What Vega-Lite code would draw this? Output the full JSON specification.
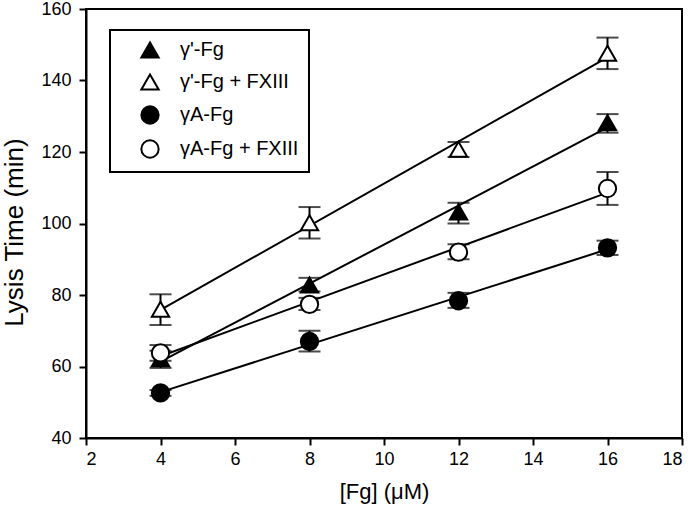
{
  "$schema": "https://vega.github.io/schema/vega-lite/v6.json",
  "width": 596,
  "height": 429,
  "autosize": "none",
  "padding": {"left": 86, "top": 9, "right": 11, "bottom": 70},
  "background": "white",
  "data": {
    "values": [
      {"series": "γ'-Fg", "x": 4, "y": 62.2, "lo": 59.6, "hi": 64.4},
      {"series": "γ'-Fg", "x": 8, "y": 82.8, "lo": 81.0, "hi": 84.8},
      {"series": "γ'-Fg", "x": 12, "y": 103.2, "lo": 100.0, "hi": 105.8},
      {"series": "γ'-Fg", "x": 16, "y": 128.2, "lo": 125.4, "hi": 130.6},
      {"series": "γ'-Fg + FXIII", "x": 4, "y": 76.0, "lo": 71.6, "hi": 80.2},
      {"series": "γ'-Fg + FXIII", "x": 8, "y": 100.2, "lo": 95.8, "hi": 104.6},
      {"series": "γ'-Fg + FXIII", "x": 12, "y": 120.8, "lo": 118.6, "hi": 122.8},
      {"series": "γ'-Fg + FXIII", "x": 16, "y": 147.6, "lo": 143.2, "hi": 152.0},
      {"series": "γA-Fg", "x": 4, "y": 52.6, "lo": 51.8, "hi": 53.4},
      {"series": "γA-Fg", "x": 8, "y": 67.0, "lo": 64.2, "hi": 70.0},
      {"series": "γA-Fg", "x": 12, "y": 78.4, "lo": 76.4, "hi": 80.6},
      {"series": "γA-Fg", "x": 16, "y": 93.2, "lo": 91.2, "hi": 95.2},
      {"series": "γA-Fg + FXIII", "x": 4, "y": 63.8, "lo": 61.6, "hi": 66.0},
      {"series": "γA-Fg + FXIII", "x": 8, "y": 77.4, "lo": 75.8, "hi": 79.2},
      {"series": "γA-Fg + FXIII", "x": 12, "y": 92.0, "lo": 90.0, "hi": 94.2},
      {"series": "γA-Fg + FXIII", "x": 16, "y": 109.8, "lo": 105.2, "hi": 114.4}
    ]
  },
  "layer": [
    {
      "transform": [
        {"regression": "y", "on": "x", "groupby": ["series"], "extent": [4, 16]}
      ],
      "mark": {"type": "line", "color": "black", "strokeWidth": 2},
      "encoding": {
        "x": {"field": "x", "type": "quantitative"},
        "y": {"field": "y", "type": "quantitative"},
        "detail": {"field": "series"}
      }
    },
    {
      "mark": {"type": "rule", "color": "black", "strokeWidth": 2},
      "encoding": {
        "x": {"field": "x", "type": "quantitative"},
        "y": {"field": "lo", "type": "quantitative"},
        "y2": {"field": "hi"}
      }
    },
    {
      "mark": {"type": "tick", "color": "black", "orient": "horizontal", "size": 22, "thickness": 2},
      "encoding": {
        "x": {"field": "x", "type": "quantitative"},
        "y": {"field": "lo", "type": "quantitative"}
      }
    },
    {
      "mark": {"type": "tick", "color": "black", "orient": "horizontal", "size": 22, "thickness": 2},
      "encoding": {
        "x": {"field": "x", "type": "quantitative"},
        "y": {"field": "hi", "type": "quantitative"}
      }
    },
    {
      "mark": {"type": "point", "filled": true, "strokeWidth": 2, "size": 300, "opacity": 1},
      "encoding": {
        "x": {
          "field": "x", "type": "quantitative",
          "scale": {"domain": [2, 18], "nice": false, "zero": false},
          "axis": {"values": [2, 4, 6, 8, 10, 12, 14, 16, 18], "title": "[Fg] (μM)", "titleFontSize": 22, "titlePadding": 13, "labelPadding": 5}
        },
        "y": {
          "field": "y", "type": "quantitative",
          "scale": {"domain": [40, 160], "nice": false, "zero": false},
          "axis": {"values": [40, 60, 80, 100, 120, 140, 160], "title": "Lysis Time (min)", "titleFontSize": 26, "titleX": -72, "titleY": 223, "titleBaseline": "middle", "titleAngle": -90, "labelPadding": 8}
        },
        "shape": {
          "field": "series", "type": "nominal", "title": null,
          "scale": {"domain": ["γ'-Fg", "γ'-Fg + FXIII", "γA-Fg", "γA-Fg + FXIII"], "range": ["triangle-up", "triangle-up", "circle", "circle"]},
          "legend": {"labelExpr": "datum.label + '\u00a0\u00a0\u00a0\u00a0\u00a0\u00a0\u00a0'"}
        },
        "fill": {
          "field": "series", "type": "nominal", "title": null,
          "scale": {"domain": ["γ'-Fg", "γ'-Fg + FXIII", "γA-Fg", "γA-Fg + FXIII"], "range": ["black", "white", "black", "white"]},
          "legend": {"labelExpr": "datum.label + '\u00a0\u00a0\u00a0\u00a0\u00a0\u00a0\u00a0'"}
        },
        "stroke": {
          "field": "series", "type": "nominal", "title": null,
          "scale": {"domain": ["γ'-Fg", "γ'-Fg + FXIII", "γA-Fg", "γA-Fg + FXIII"], "range": ["black", "black", "black", "black"]},
          "legend": {"labelExpr": "datum.label + '\u00a0\u00a0\u00a0\u00a0\u00a0\u00a0\u00a0'"}
        }
      }
    }
  ],
  "config": {
    "font": "Liberation Sans",
    "view": {"stroke": "black", "strokeWidth": 2},
    "axis": {
      "grid": false,
      "domainColor": "black",
      "domainWidth": 2,
      "tickColor": "black",
      "tickWidth": 2,
      "tickSize": 7,
      "labelFontSize": 18,
      "labelColor": "black",
      "labelFont": "Liberation Sans",
      "titleFont": "Liberation Sans",
      "titleFontWeight": "normal",
      "titleColor": "black"
    },
    "legend": {
      "orient": "none",
      "legendX": 24,
      "legendY": 21,
      "strokeColor": "black",
      "strokeWidth": 2,
      "fillColor": "white",
      "padding": 10,
      "symbolOffset": 20,
      "symbolSize": 300,
      "symbolStrokeWidth": 2,
      "labelFontSize": 20,
      "labelFont": "Liberation Sans",
      "labelColor": "black",
      "labelOffset": 20,
      "rowPadding": 8,
      "labelLimit": 300
    }
  }
}
